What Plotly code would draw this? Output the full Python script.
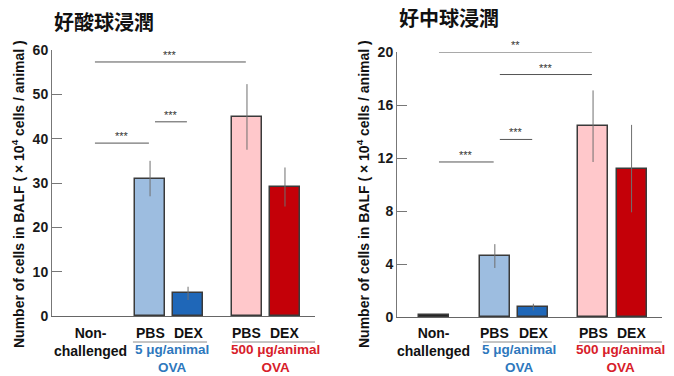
import plotly.graph_objects as go

# ---------------- data ----------------
groups = ["Non-challenged", "PBS 5", "DEX 5", "PBS 500", "DEX 500"]
eos_mean = [0.0, 31.0, 5.1, 44.9, 29.1]
eos_sd = [0.0, 4.0, 1.5, 7.4, 4.4]
neu_mean = [0.15, 4.6, 0.75, 14.4, 11.2]
neu_sd = [0.0, 0.9, 0.25, 2.7, 3.3]
bar_colors = ["#111111", "#9dbde0", "#1f67b8", "#ffc8cb", "#c40008"]

eos_ticks = [0, 10, 20, 30, 40, 50, 60]
neu_ticks = [0, 4, 8, 12, 16, 20]

# significance brackets: (from group, to group, y, label)
eos_sig = [(0, 3, 57.3, "***"), (0, 1, 39.0, "***"), (1, 2, 43.8, "***")]
neu_sig = [(0, 3, 20.0, "**"), (1, 3, 18.3, "***"), (1, 2, 13.4, "***"), (0, 1, 11.7, "***")]

titles = ["好酸球浸潤", "好中球浸潤"]
ytitle = "Number of cells in BALF ( × 10<sup>4</sup> cells / animal )"

# ---------------- layout constants ----------------
W, H = 674, 376
pos = [0, 1.58, 2.58, 4.13, 5.13]
bw = 0.78
FONT = "Liberation Sans, Arial, sans-serif"
CJK = "Noto Sans CJK JP"
LBL = dict(family=FONT, size=14, color="#111111", weight="bold")

fig = go.Figure()

panels = [
    dict(mean=eos_mean, sd=eos_sd, ticks=eos_ticks, yr=[0, 60], sig=eos_sig,
         xa="x", ya="y", xdom=[52 / W, 315 / W], ydom=[(H - 316) / H, (H - 50) / H],
         xr=[-1.0, 5.92], title=titles[0], tx=104 / W, ty=(H - 22) / H, ytx=18 / W,
         blue_c=2.15, red_c=4.87, ul=[(1.13, 3.08), (3.74, 6.05)],
         lw=[0, 1.5, 1.5, 1.5, 1.5]),
    dict(mean=neu_mean, sd=neu_sd, ticks=neu_ticks, yr=[0, 20], sig=neu_sig,
         xa="x2", ya="y2", xdom=[397 / W, 662 / W], ydom=[(H - 317) / H, (H - 52) / H],
         xr=[-0.96, 5.92], title=titles[1], tx=449 / W, ty=(H - 18) / H, ytx=363 / W,
         blue_c=2.2, red_c=4.84, ul=[(1.27, 3.06), (3.77, 6.05)],
         lw=[1.5, 1.5, 1.5, 1.5, 1.5]),
]

annotations = []
shapes = []
for i, p in enumerate(panels):
    fig.add_trace(go.Bar(
        x=pos, y=p["mean"], width=bw, xaxis=p["xa"], yaxis=p["ya"],
        marker=dict(color=bar_colors, line=dict(color="#3a3a3a", width=p["lw"])),
        error_y=dict(type="data", array=p["sd"], visible=True, color="#6f6f6f",
                     thickness=1, width=0),
        showlegend=False, hoverinfo="skip",
    ))
    sfx = "" if i == 0 else "2"
    fig.layout["xaxis" + sfx] = dict(
        domain=p["xdom"], range=p["xr"], showline=True, linecolor="#666666",
        linewidth=1, showticklabels=False, ticks="", showgrid=False, zeroline=False,
        anchor="y" + sfx, fixedrange=True, automargin=False)
    fig.layout["yaxis" + sfx] = dict(
        domain=p["ydom"], range=p["yr"], tickvals=p["ticks"], showline=True,
        linecolor="#777777", linewidth=1, ticks="inside", ticklen=10,
        tickcolor="#777777", tickwidth=1, showgrid=False, zeroline=False,
        tickfont=dict(family=FONT, size=14, color="#1a1a1a", weight="bold"),
        anchor="x" + sfx, fixedrange=True, automargin=False)

    # significance brackets
    for a, b, yv, lab in p["sig"]:
        shapes.append(dict(type="line", xref=p["xa"], yref=p["ya"],
                           x0=pos[a] + 0.13, x1=pos[b] - 0.03, y0=yv, y1=yv,
                           line=dict(color="#555555", width=1)))
        annotations.append(dict(xref=p["xa"], yref=p["ya"], x=(pos[a] + pos[b]) / 2 + 0.05,
                                y=yv, text=lab, showarrow=False, yanchor="bottom",
                                yshift=-1, font=dict(family=FONT, size=11, color="#333333")))

    # category labels
    annotations.append(dict(xref=p["xa"], yref="paper", x=pos[0], y=(H - 342) / H,
                            yanchor="middle", text="Non-<br>challenged", showarrow=False,
                            font=LBL))
    for k, lab in zip([1, 2, 3, 4], ["PBS", "DEX", "PBS", "DEX"]):
        annotations.append(dict(xref=p["xa"], yref="paper", x=pos[k], y=(H - 333) / H,
                                yanchor="middle", text=lab, showarrow=False, font=LBL))
    for x0, x1 in p["ul"]:
        shapes.append(dict(type="line", xref=p["xa"], yref="paper", x0=x0, x1=x1,
                           y0=(H - 342) / H, y1=(H - 342) / H,
                           line=dict(color="#8a8a8a", width=1)))
    for cx, txt, col in [(p["blue_c"], "5 μg/animal<br>OVA", "#2e78bd"),
                         (p["red_c"], "500 μg/animal<br>OVA", "#d7202a")]:
        annotations.append(dict(xref=p["xa"], yref="paper", x=cx, y=0,
                                yanchor="bottom", text=txt, showarrow=False,
                                borderpad=0, font=dict(LBL, size=13.5, color=col)))
    # panel title
    annotations.append(dict(xref="paper", yref="paper", x=p["tx"], y=p["ty"], text=p["title"],
                            showarrow=False, xanchor="center", yanchor="middle",
                            font=dict(family=CJK, size=20, color="#111111", weight="bold")))
    # y-axis title
    annotations.append(dict(xref="paper", yref="paper", x=p["ytx"], y=(H - 194) / H,
                            text=ytitle, textangle=-90, showarrow=False,
                            xanchor="center", yanchor="middle",
                            font=dict(family=FONT, size=14, color="#111111", weight="bold")))

fig.update_layout(width=W, height=H, margin=dict(l=0, r=0, t=0, b=0),
                  paper_bgcolor="white", plot_bgcolor="white", bargap=0,
                  annotations=annotations, shapes=shapes)
fig.write_html("out.html", config={"displayModeBar": False},
               post_script="document.body.style.margin='0';document.body.style.overflow='hidden';")
